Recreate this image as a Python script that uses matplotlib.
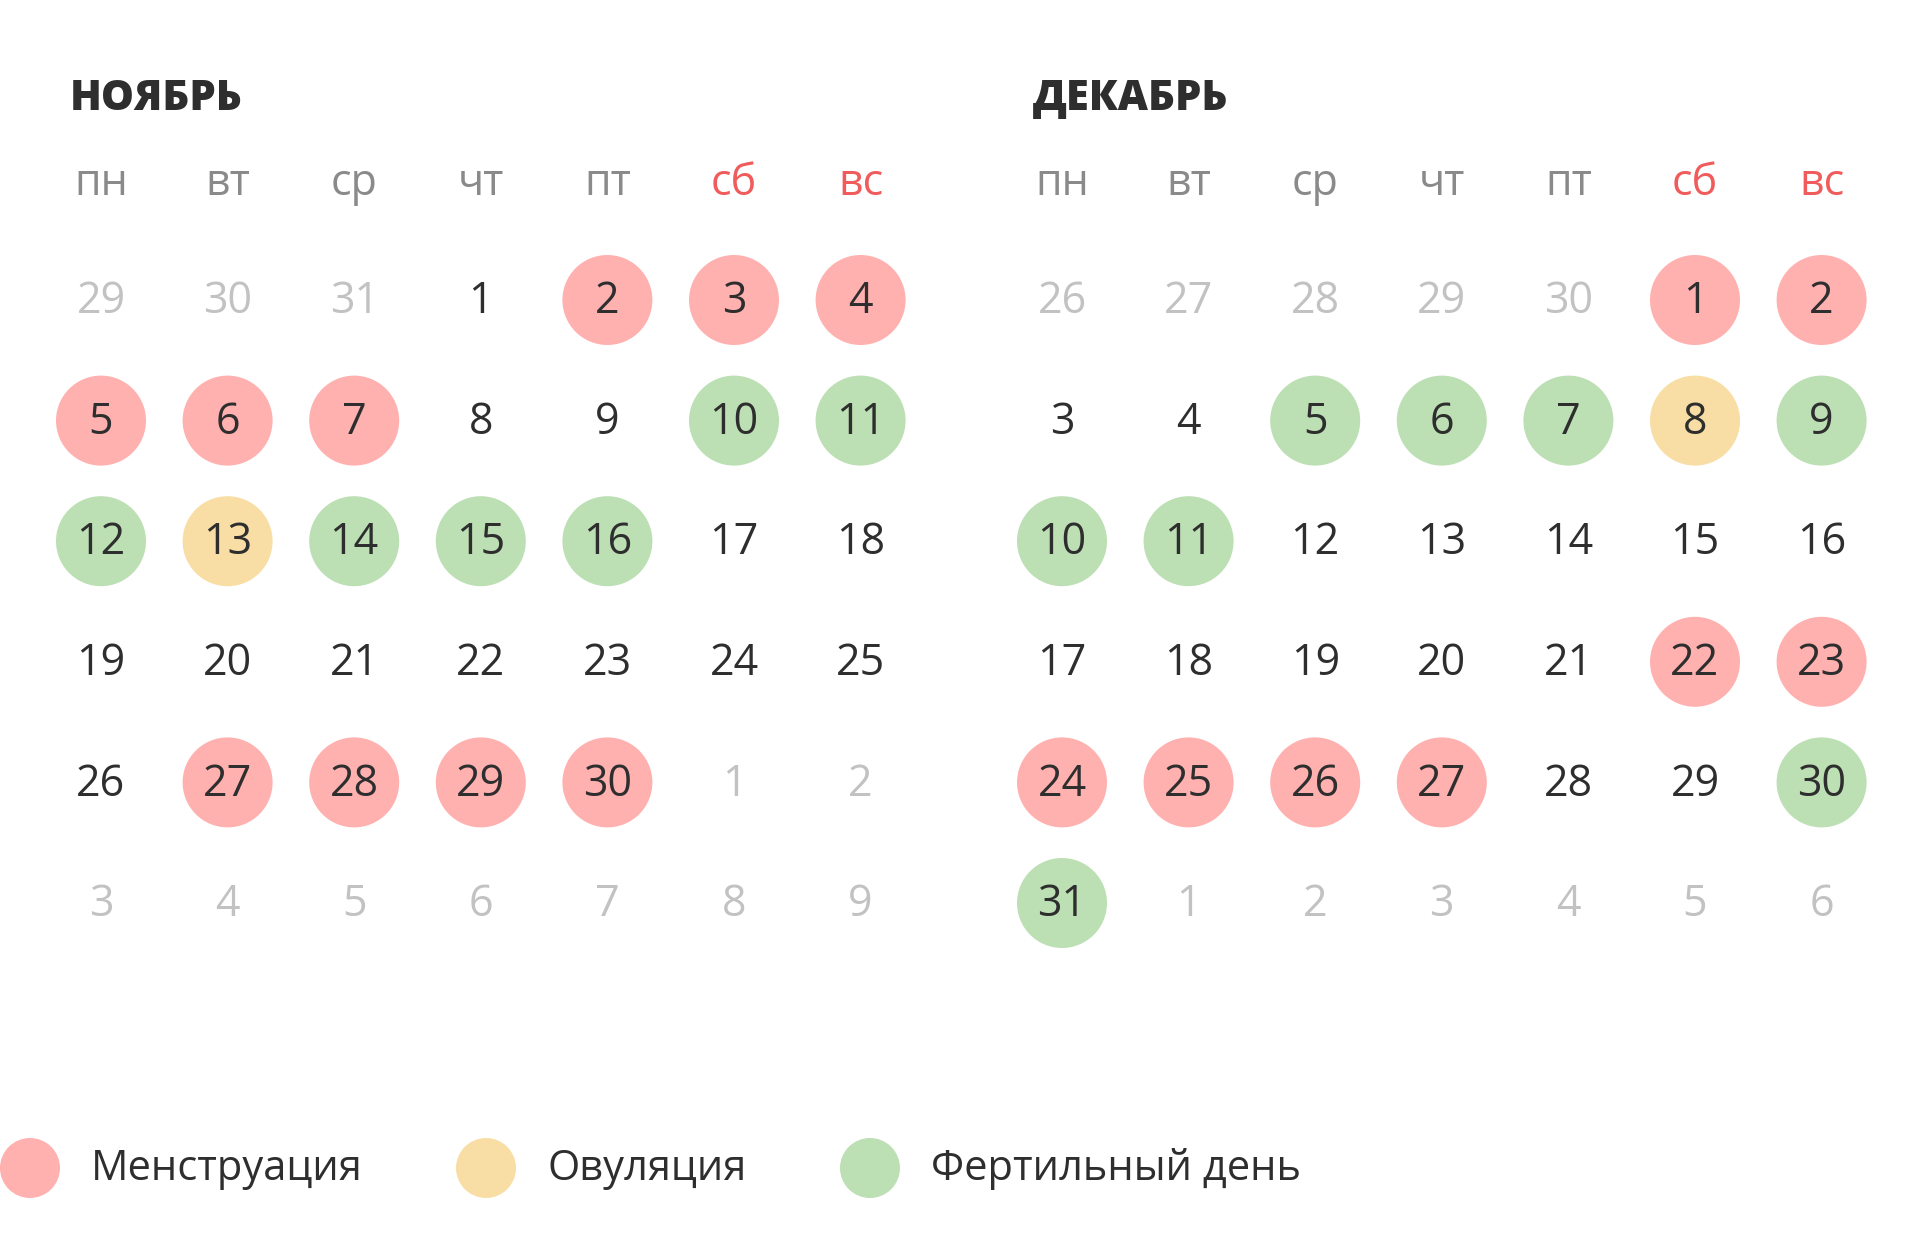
import matplotlib
matplotlib.use("Agg")
import matplotlib.pyplot as plt
from matplotlib.patches import Circle

month_names = ["НОЯБРЬ", "ДЕКАБРЬ"]
weekdays = ["пн", "вт", "ср", "чт", "пт", "сб", "вс"]
# leading days from the previous month, month length
lead_days = [[29, 30, 31], [26, 27, 28, 29, 30]]
month_lengths = [30, 31]

menstruation = [[2, 3, 4, 5, 6, 7, 27, 28, 29, 30], [1, 2, 22, 23, 24, 25, 26, 27]]
ovulation = [[13], [8]]
fertile = [[10, 11, 12, 14, 15, 16], [5, 6, 7, 9, 10, 11, 30, 31]]

legend_labels = ["Менструация", "Овуляция", "Фертильный день"]

PINK = "#ffb1b0"
YELLOW = "#f8dea4"
GREEN = "#bcdfb4"
DARK = "#2e2e2e"
OTHER = "#c2c2c2"
WEEKDAY = "#8a8a8a"
WEEKEND = "#f05c5c"

plt.rcParams["font.family"] = ["Open Sans", "DejaVu Sans"]

fig = plt.figure(figsize=(19.2, 12.36), dpi=100)
ax = fig.add_axes([0, 0, 1, 1])
ax.set_xlim(0, 1920)
ax.set_ylim(1236, 0)
ax.set_aspect("equal")
ax.axis("off")

col_w = 126.6
row_h = 120.6
x0s = [101, 1062]
title_x = [70, 1033]
r = 45

for m in range(2):
    x0 = x0s[m]
    ax.text(title_x[m], 99, month_names[m], fontsize=30, fontweight="heavy",
            color=DARK, ha="left", va="center")
    for i, wd in enumerate(weekdays):
        c = WEEKEND if i >= 5 else WEEKDAY
        ax.text(x0 + i * col_w, 184, wd, fontsize=31, color=c,
                ha="center", va="center")

    cells = [(d, "prev") for d in lead_days[m]]
    cells += [(d, "cur") for d in range(1, month_lengths[m] + 1)]
    k = 1
    while len(cells) < 42:
        cells.append((k, "next"))
        k += 1

    for idx, (day, kind) in enumerate(cells):
        row, col = divmod(idx, 7)
        x = x0 + col * col_w
        y = 300 + row * row_h
        color = DARK
        if kind != "cur":
            color = OTHER
        else:
            fill = None
            if day in menstruation[m]:
                fill = PINK
            elif day in ovulation[m]:
                fill = YELLOW
            elif day in fertile[m]:
                fill = GREEN
            if fill:
                ax.add_patch(Circle((x, y), r, color=fill, lw=0))
        ax.text(x, y + 2, str(day), fontsize=31, color=color,
                ha="center", va="center")

legend_colors = [PINK, YELLOW, GREEN]
legend_x = [30, 486, 870]
for lx, lc, lab in zip(legend_x, legend_colors, legend_labels):
    ax.add_patch(Circle((lx, 1168), 30, color=lc, lw=0))
    ax.text(lx + 61, 1169, lab, fontsize=30, color=DARK, ha="left", va="center")

fig.savefig("out.png", dpi=100, facecolor="white")
